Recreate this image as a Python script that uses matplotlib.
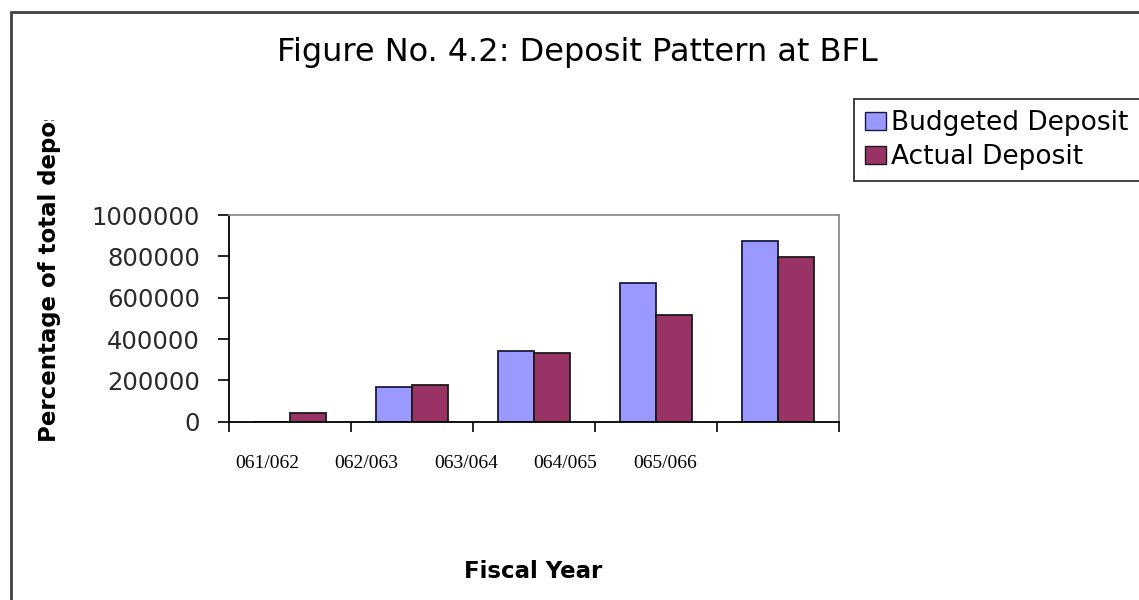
import matplotlib
matplotlib.use("Agg")
import matplotlib.pyplot as plt
from matplotlib.patches import Rectangle, Patch
import numpy as np

years = ["061/062", "062/063", "063/064", "064/065", "065/066"]
budgeted = [0, 166000, 342000, 670000, 876000]
actual = [40000, 176000, 331000, 515000, 798000]
yticks = [0, 200000, 400000, 600000, 800000, 1000000]

W, H = 1139, 600
fig = plt.figure(figsize=(W / 100, H / 100), dpi=100)
fig.patch.set_facecolor("white")

# outer chart border
fig.add_artist(Rectangle((11 / W, -0.05), 1.1, (H - 12) / H + 0.05,
                         transform=fig.transFigure, fill=False,
                         edgecolor="#404040", linewidth=2))

ax = fig.add_axes([229 / W, 1 - 421.7 / H, (839 - 229) / W, (421.7 - 215) / H])
x = np.arange(len(years))
bw = 0.295
ax.bar(x - bw, budgeted, width=bw, align="edge", color="#9999FF",
       edgecolor="#1a1a40", linewidth=1.3, label="Budgeted Deposit")
ax.bar(x, actual, width=bw, align="edge", color="#993366",
       edgecolor="#1a1a1a", linewidth=1.3, label="Actual Deposit")

ax.set_xlim(-0.5, len(years) - 0.5)
ax.set_ylim(0, 1000000)
ax.set_yticks(yticks)
ax.set_yticklabels([str(v) for v in yticks], fontsize=17.5,
                   family="DejaVu Sans", color="#2a2a2a")
ax.set_xticks(np.arange(len(years) + 1) - 0.5)
ax.set_xticklabels([])
ax.tick_params(axis="y", direction="out", length=8, width=1.2, pad=13)
ax.tick_params(axis="x", direction="out", length=7, width=1.2)
for s in ["left", "bottom"]:
    ax.spines[s].set_color("black")
    ax.spines[s].set_linewidth(1.3)
for s in ["top", "right"]:
    ax.spines[s].set_color("#8c8c8c")
    ax.spines[s].set_linewidth(1.3)

# category labels (offset as in the reference)
for i, lab in enumerate(years):
    ax.text(-0.19 + i * 0.816, -0.2, lab, transform=ax.get_xaxis_transform(),
            ha="center", va="center", fontsize=14, family="Liberation Serif")

fig.text(577 / W, 1 - 52 / H, "Figure No. 4.2: Deposit Pattern at BFL",
         ha="center", va="center", fontsize=23, family="DejaVu Sans")
fig.text(533 / W, 1 - 572 / H, "Fiscal Year", ha="center", va="center",
         fontsize=16.5, fontweight="bold", family="DejaVu Sans")

yl = fig.text(50 / W, 1 - 442 / H, "Percentage of total deposit",
              rotation=90, ha="center", va="bottom", fontsize=16.5,
              fontweight="bold", family="DejaVu Sans")
yl.set_clip_path(Rectangle((0, 0), 200 / W, (H - 120) / H,
                           transform=fig.transFigure))

handles = [Patch(facecolor="#9999FF", edgecolor="#1a1a40", label="Budgeted Deposit"),
           Patch(facecolor="#993366", edgecolor="#1a1a1a", label="Actual Deposit")]
leg = fig.legend(handles=handles, loc="upper left",
                 bbox_to_anchor=(854 / W, 1 - 99 / H),
                 prop={"family": "DejaVu Sans", "size": 19},
                 frameon=True, fancybox=False, edgecolor="black",
                 handlelength=0.8, handleheight=0.7, handletextpad=0.2,
                 borderpad=0.42, labelspacing=0.3, borderaxespad=0)
leg.get_frame().set_linewidth(1.3)

fig.savefig("out.png", dpi=100)
